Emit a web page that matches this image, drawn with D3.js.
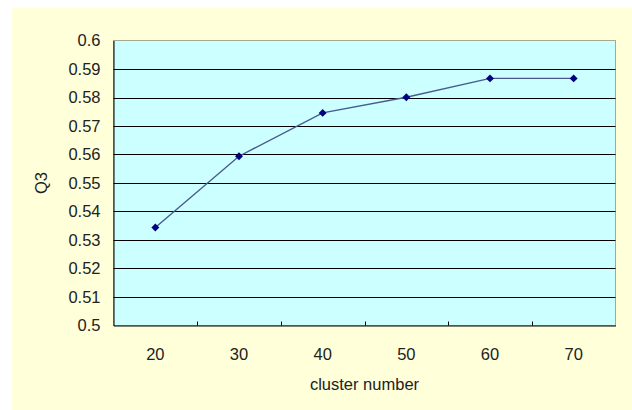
<!DOCTYPE html>
<html><head><meta charset="utf-8">
<script src="https://cdn.jsdelivr.net/npm/d3@7"></script>
<style>html,body{margin:0;padding:0;background:#fff;}svg{display:block;}</style>
</head><body>
<svg id="c" width="632" height="410"></svg>
<script>
const categories = ["20","30","40","50","60","70"];
const q3Values = [0.5344, 0.5594, 0.5746, 0.5801, 0.5867, 0.5867];
const yTicks = [0.5,0.51,0.52,0.53,0.54,0.55,0.56,0.57,0.58,0.59,0.6];

const svg = d3.select("#c");
const W = 632, H = 410;
const plot = {l:113.5, r:615.5, t:40.5, b:325.5};
const font = "'Liberation Sans', Arial, sans-serif";
const fs = 16.5;
const txt = "#222";

svg.append("rect").attr("x",12).attr("y",8).attr("width",W-12).attr("height",H-8).attr("fill","#FFFFDA");

const x = d3.scaleBand().domain(categories).range([plot.l, plot.r]);
const y = d3.scaleLinear().domain([0.5,0.6]).range([plot.b, plot.t]);

svg.append("rect").attr("x",plot.l).attr("y",plot.t).attr("width",plot.r-plot.l).attr("height",plot.b-plot.t)
  .attr("fill","#CCFFFF").attr("stroke","#a8a890").attr("stroke-width",1);

// gridlines
svg.append("g").selectAll("line").data(yTicks.filter(v=>v>0.5 && v<0.6)).join("line")
  .attr("x1",plot.l).attr("x2",plot.r).attr("y1",d=>Math.round(y(d))+0.5).attr("y2",d=>Math.round(y(d))+0.5)
  .attr("stroke","#000").attr("stroke-width",1);

// y axis
const yAxis = d3.axisLeft(y).tickValues(yTicks).tickSize(0).tickPadding(13).tickFormat(d=>d3.format("")(+d.toFixed(2)));
const gy = svg.append("g").attr("transform",`translate(${plot.l},0)`).call(yAxis);
gy.select(".domain").attr("stroke","#000");
gy.selectAll("text").attr("font-family",font).attr("font-size",fs).attr("fill",txt);

// x axis
const xAxis = d3.axisBottom(x).tickSize(0).tickPadding(23);
const gx = svg.append("g").attr("transform",`translate(0,${plot.b})`).call(xAxis);
gx.select(".domain").attr("stroke","#000");
gx.selectAll("text").attr("font-family",font).attr("font-size",fs).attr("fill",txt);
// inward tick marks at category boundaries
svg.append("g").selectAll("line").data(categories.slice(1)).join("line")
  .attr("x1",d=>Math.round(x(d))+0.5).attr("x2",d=>Math.round(x(d))+0.5)
  .attr("y1",plot.b).attr("y2",plot.b-4).attr("stroke","#000");

// line
const cx = d => x(d) + x.bandwidth()/2;
const line = d3.line().x((d,i)=>cx(categories[i])).y(d=>y(d));
svg.append("path").datum(q3Values).attr("d",line).attr("fill","none").attr("stroke","#4a5a8e").attr("stroke-width",1.4);

svg.append("g").selectAll("path").data(q3Values).join("path")
  .attr("d", d3.symbol().type(d3.symbolDiamond2).size(40))
  .attr("transform",(d,i)=>`translate(${cx(categories[i])},${y(d)})`)
  .attr("fill","#000080");

// titles
svg.append("text").attr("transform",`translate(47,${(plot.t+plot.b)/2}) rotate(-90)`)
  .attr("text-anchor","middle").attr("font-family",font).attr("font-size",fs).attr("fill",txt).text("Q3");
svg.append("text").attr("x",(plot.l+plot.r)/2).attr("y",390)
  .attr("text-anchor","middle").attr("font-family",font).attr("font-size",fs).attr("fill",txt).text("cluster number");
</script>
</body></html>
